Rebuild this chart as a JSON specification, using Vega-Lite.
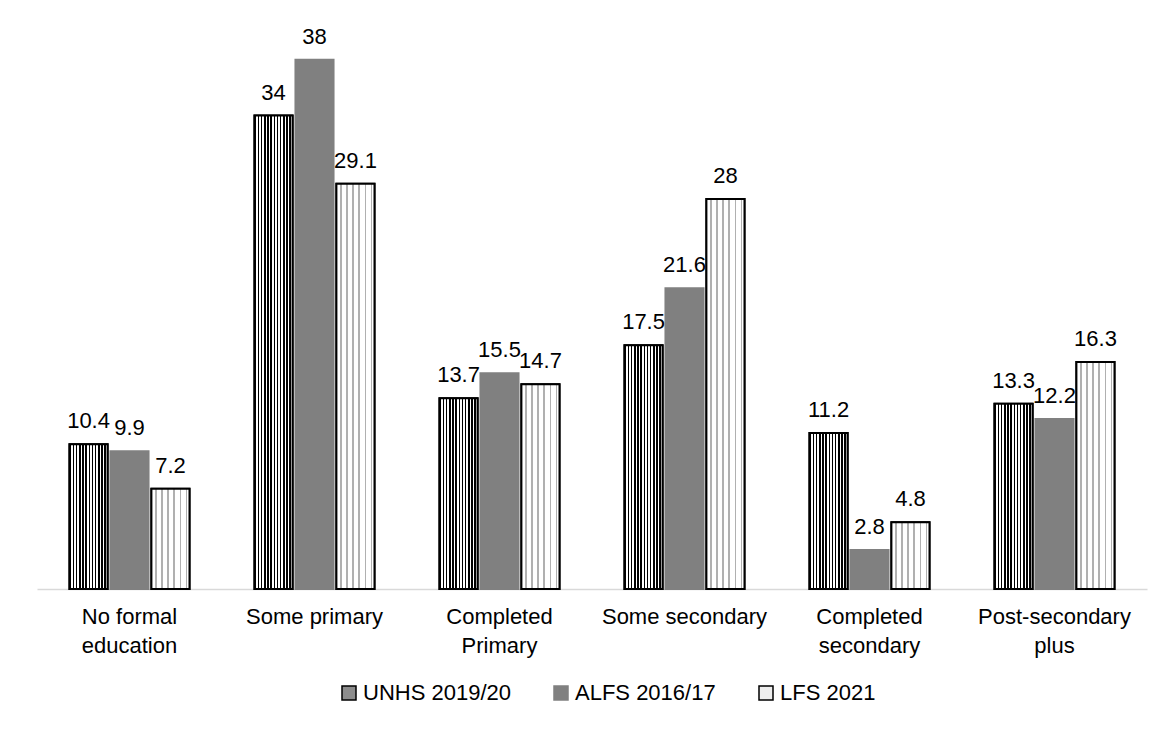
{
  "$schema": "https://vega.github.io/schema/vega-lite/v6.json",
  "width": 1110,
  "height": 557,
  "autosize": {"type": "none"},
  "padding": {"left": 37, "top": 32, "right": 22, "bottom": 142},
  "background": "white",
  "config": {
    "view": {"stroke": null},
    "font": "Liberation Sans"
  },
  "data": {
    "values": [
      {"level": "No formal education", "survey": "UNHS 2019/20", "value": 10.4},
      {"level": "No formal education", "survey": "ALFS 2016/17", "value": 9.9},
      {"level": "No formal education", "survey": "LFS 2021", "value": 7.2},
      {"level": "Some primary", "survey": "UNHS 2019/20", "value": 34},
      {"level": "Some primary", "survey": "ALFS 2016/17", "value": 38},
      {"level": "Some primary", "survey": "LFS 2021", "value": 29.1},
      {"level": "Completed Primary", "survey": "UNHS 2019/20", "value": 13.7},
      {"level": "Completed Primary", "survey": "ALFS 2016/17", "value": 15.5},
      {"level": "Completed Primary", "survey": "LFS 2021", "value": 14.7},
      {"level": "Some secondary", "survey": "UNHS 2019/20", "value": 17.5},
      {"level": "Some secondary", "survey": "ALFS 2016/17", "value": 21.6},
      {"level": "Some secondary", "survey": "LFS 2021", "value": 28},
      {"level": "Completed secondary", "survey": "UNHS 2019/20", "value": 11.2},
      {"level": "Completed secondary", "survey": "ALFS 2016/17", "value": 2.8},
      {"level": "Completed secondary", "survey": "LFS 2021", "value": 4.8},
      {"level": "Post-secondary plus", "survey": "UNHS 2019/20", "value": 13.3},
      {"level": "Post-secondary plus", "survey": "ALFS 2016/17", "value": 12.2},
      {"level": "Post-secondary plus", "survey": "LFS 2021", "value": 16.3}
    ]
  },
  "encoding": {
    "x": {
      "field": "level",
      "type": "nominal",
      "sort": ["No formal education", "Some primary", "Completed Primary", "Some secondary", "Completed secondary", "Post-secondary plus"],
      "scale": {"paddingInner": 0.3514, "paddingOuter": 0.1757},
      "axis": {
        "title": null,
        "orient": "bottom",
        "labelAngle": 0,
        "ticks": false,
        "domainColor": "#d9d9d9",
        "domainWidth": 1.5,
        "labelFontSize": 22,
        "labelColor": "#000000",
        "labelFont": "Liberation Sans",
        "labelPadding": 17,
        "labelLineHeight": 29,
        "labelLimit": 300,
        "labelExpr": "datum.label == 'No formal education' ? ['No formal', 'education'] : datum.label == 'Completed Primary' ? ['Completed', 'Primary'] : datum.label == 'Completed secondary' ? ['Completed', 'secondary'] : datum.label == 'Post-secondary plus' ? ['Post-secondary', 'plus'] : datum.label"
      }
    },
    "xOffset": {
      "field": "survey",
      "type": "nominal",
      "sort": ["UNHS 2019/20", "ALFS 2016/17", "LFS 2021"],
      "scale": {"paddingInner": 0.07}
    },
    "y": {
      "field": "value",
      "type": "quantitative",
      "scale": {"domain": [0, 40], "nice": false},
      "axis": null
    }
  },
  "layer": [
    {
      "mark": {"type": "bar", "strokeWidth": 2},
      "encoding": {
        "color": {
          "field": "survey",
          "type": "nominal",
          "sort": ["UNHS 2019/20", "ALFS 2016/17", "LFS 2021"],
          "scale": {"range": ["#8c8c8c", "#808080", "#eeeeee"]},
          "legend": {
            "title": null,
            "orient": "none",
            "legendX": 301,
            "legendY": 650,
            "direction": "horizontal",
            "symbolType": "square",
            "symbolSize": 196,
            "symbolStrokeWidth": 1.5,
            "symbolOpacity": 1,
            "labelFontSize": 22,
            "labelColor": "#000000",
            "labelFont": "Liberation Sans",
            "labelOffset": 3,
            "columnPadding": 39,
            "labelLimit": 300,
            "encode": {
              "symbols": {
                "update": {
                  "stroke": {"signal": "datum.label == 'ALFS 2016/17' ? '#808080' : '#000000'"},
                  "strokeWidth": {"value": 1.5}
                }
              }
            }
          }
        },
        "stroke": {
          "field": "survey",
          "type": "nominal",
          "sort": ["UNHS 2019/20", "ALFS 2016/17", "LFS 2021"],
          "scale": {"range": ["#000000", "#808080", "#000000"]},
          "legend": null
        }
      }
    },
    {
      "transform": [{"filter": "datum.survey == 'UNHS 2019/20'"}],
      "mark": {
        "type": "bar",
        "stroke": "#000000",
        "strokeWidth": 2,
        "fill": {
          "gradient": "linear", "x1": 0, "y1": 0, "x2": 1, "y2": 0,
          "stops": [
            {"offset": 0.0, "color": "#000000"}, {"offset": 0.04, "color": "#000000"}, {"offset": 0.04, "color": "#ffffff"}, {"offset": 0.083, "color": "#ffffff"},
            {"offset": 0.083, "color": "#000000"}, {"offset": 0.123, "color": "#000000"}, {"offset": 0.123, "color": "#ffffff"}, {"offset": 0.166, "color": "#ffffff"},
            {"offset": 0.166, "color": "#000000"}, {"offset": 0.206, "color": "#000000"}, {"offset": 0.206, "color": "#ffffff"}, {"offset": 0.25, "color": "#ffffff"},
            {"offset": 0.25, "color": "#000000"}, {"offset": 0.29, "color": "#000000"}, {"offset": 0.29, "color": "#ffffff"}, {"offset": 0.333, "color": "#ffffff"},
            {"offset": 0.333, "color": "#000000"}, {"offset": 0.373, "color": "#000000"}, {"offset": 0.373, "color": "#ffffff"}, {"offset": 0.416, "color": "#ffffff"},
            {"offset": 0.416, "color": "#000000"}, {"offset": 0.456, "color": "#000000"}, {"offset": 0.456, "color": "#ffffff"}, {"offset": 0.5, "color": "#ffffff"},
            {"offset": 0.5, "color": "#000000"}, {"offset": 0.54, "color": "#000000"}, {"offset": 0.54, "color": "#ffffff"}, {"offset": 0.583, "color": "#ffffff"},
            {"offset": 0.583, "color": "#000000"}, {"offset": 0.623, "color": "#000000"}, {"offset": 0.623, "color": "#ffffff"}, {"offset": 0.666, "color": "#ffffff"},
            {"offset": 0.666, "color": "#000000"}, {"offset": 0.706, "color": "#000000"}, {"offset": 0.706, "color": "#ffffff"}, {"offset": 0.75, "color": "#ffffff"},
            {"offset": 0.75, "color": "#000000"}, {"offset": 0.79, "color": "#000000"}, {"offset": 0.79, "color": "#ffffff"}, {"offset": 0.833, "color": "#ffffff"},
            {"offset": 0.833, "color": "#000000"}, {"offset": 0.873, "color": "#000000"}, {"offset": 0.873, "color": "#ffffff"}, {"offset": 0.916, "color": "#ffffff"},
            {"offset": 0.916, "color": "#000000"}, {"offset": 0.956, "color": "#000000"}, {"offset": 0.956, "color": "#ffffff"}, {"offset": 1.0, "color": "#ffffff"}
          ]
        }
      }
    },
    {
      "transform": [{"filter": "datum.survey == 'LFS 2021'"}],
      "mark": {
        "type": "bar",
        "stroke": "#000000",
        "strokeWidth": 2,
        "fill": {
          "gradient": "linear", "x1": 0, "y1": 0, "x2": 1, "y2": 0,
          "stops": [
            {"offset": 0.0, "color": "#ffffff"}, {"offset": 0.1, "color": "#ffffff"}, {"offset": 0.1, "color": "#b0b0b0"}, {"offset": 0.14, "color": "#b0b0b0"}, {"offset": 0.14, "color": "#ffffff"},
            {"offset": 0.26, "color": "#ffffff"}, {"offset": 0.26, "color": "#b0b0b0"}, {"offset": 0.30, "color": "#b0b0b0"}, {"offset": 0.30, "color": "#ffffff"},
            {"offset": 0.42, "color": "#ffffff"}, {"offset": 0.42, "color": "#b0b0b0"}, {"offset": 0.46, "color": "#b0b0b0"}, {"offset": 0.46, "color": "#ffffff"},
            {"offset": 0.58, "color": "#ffffff"}, {"offset": 0.58, "color": "#b0b0b0"}, {"offset": 0.62, "color": "#b0b0b0"}, {"offset": 0.62, "color": "#ffffff"},
            {"offset": 0.74, "color": "#ffffff"}, {"offset": 0.74, "color": "#b0b0b0"}, {"offset": 0.78, "color": "#b0b0b0"}, {"offset": 0.78, "color": "#ffffff"},
            {"offset": 0.90, "color": "#ffffff"}, {"offset": 0.90, "color": "#b0b0b0"}, {"offset": 0.94, "color": "#b0b0b0"}, {"offset": 0.94, "color": "#ffffff"},
            {"offset": 1.0, "color": "#ffffff"}
          ]
        }
      }
    },
    {
      "mark": {"type": "text", "baseline": "alphabetic", "dy": -16, "fontSize": 22, "font": "Liberation Sans", "color": "#000000"},
      "encoding": {
        "text": {"field": "value", "type": "quantitative"}
      }
    }
  ]
}
